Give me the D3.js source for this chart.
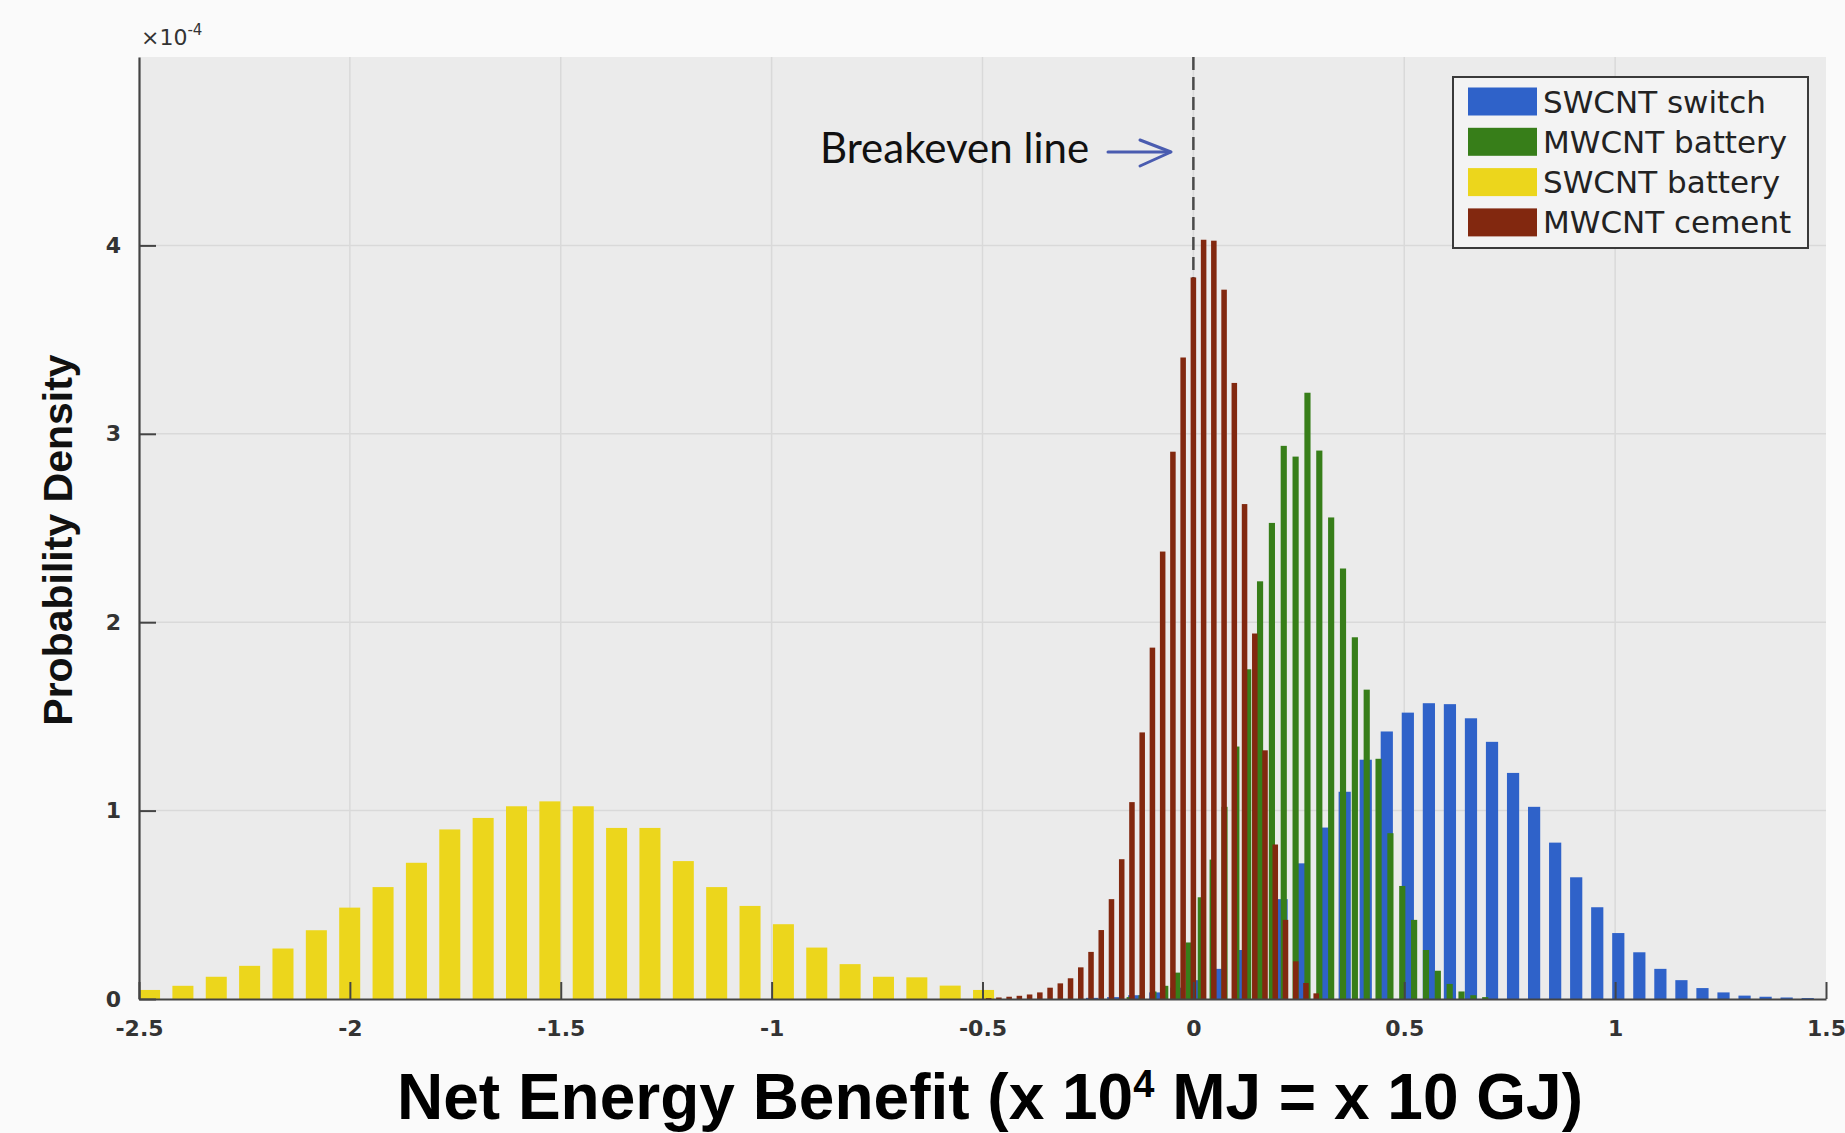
<!DOCTYPE html>
<html>
<head>
<meta charset="utf-8">
<script src="https://cdn.jsdelivr.net/npm/d3@7"></script>
<style>
  html, body { margin: 0; padding: 0; background: #fafafa; }
  svg { display: block; }
</style>
</head>
<body>
<svg id="chart" width="1845" height="1133"></svg>
<script>
// Probability density (x 10^-4) of the net energy benefit, one histogram per application.
// Each histogram is given by the centre of its first bin, its bin width and the bin heights.

const seriesNames = ["SWCNT switch", "MWCNT battery", "SWCNT battery", "MWCNT cement"];

const swcntSwitchFirstBin = -0.24;
const swcntSwitchBinWidth = 0.0499;
const swcntSwitch = [
  0.006, 0.01, 0.02, 0.035, 0.06, 0.10, 0.16, 0.26, 0.38, 0.53,
  0.72, 0.91, 1.10, 1.27, 1.42, 1.52, 1.57, 1.565, 1.49, 1.365,
  1.20, 1.02, 0.83, 0.646, 0.487, 0.35, 0.248, 0.16, 0.10, 0.058,
  0.035, 0.018, 0.012, 0.008, 0.005
];

const mwcntBatteryFirstBin = -0.151;
const mwcntBatteryBinWidth = 0.0281;
const mwcntBattery = [
  0.01, 0.02, 0.04, 0.07, 0.14, 0.30, 0.54, 0.74, 1.02, 1.34,
  1.75, 2.217, 2.527, 2.936, 2.879, 3.218, 2.911, 2.556, 2.285, 1.92,
  1.642, 1.275, 0.88, 0.60, 0.42, 0.26, 0.15, 0.08, 0.04, 0.02, 0.01
];

const swcntBatteryFirstBin = -2.475;
const swcntBatteryBinWidth = 0.0791;
const swcntBattery = [
  0.048, 0.07, 0.118, 0.176, 0.268, 0.365, 0.485, 0.594, 0.723, 0.90,
  0.961, 1.023, 1.049, 1.023, 0.908, 0.908, 0.732, 0.594, 0.494, 0.397,
  0.273, 0.185, 0.118, 0.115, 0.071, 0.048
];

const mwcntCementFirstBin = -0.4854;
const mwcntCementBinWidth = 0.02427;
const mwcntCement = [
  0.005, 0.008, 0.012, 0.017, 0.024, 0.035, 0.06, 0.083, 0.11, 0.168,
  0.25, 0.366, 0.53, 0.742, 1.045, 1.415, 1.865, 2.375, 2.905, 3.405,
  3.83, 4.03, 4.025, 3.765, 3.27, 2.627, 1.94, 1.32, 0.82, 0.42,
  0.20, 0.085, 0.03
];

const xTicks = [-2.5, -2, -1.5, -1, -0.5, 0, 0.5, 1, 1.5];
const xTickLabels = ["-2.5", "-2", "-1.5", "-1", "-0.5", "0", "0.5", "1", "1.5"];
const yTicks = [0, 1, 2, 3, 4];
const yTickLabels = ["0", "1", "2", "3", "4"];
const breakevenValue = 0;

// ---- layout & style ----
const plot = { left: 139, right: 1826, top: 57, bottom: 999 };
const colors = ["#2f62c9", "#377e19", "#ecd61c", "#82280f"];
const barFraction = [0.58, 0.52, 0.63, 0.54];

const svg = d3.select("#chart");

const x = d3.scaleLinear().domain([-2.5, 1.5]).range([plot.left, plot.right]);
const y = d3.scaleLinear().domain([0, 5]).range([plot.bottom, plot.top]);

// page background
svg.append("rect").attr("width", 1845).attr("height", 1133).attr("fill", "#fafafa");

// axes background
svg.append("rect")
  .attr("x", plot.left).attr("y", plot.top)
  .attr("width", plot.right - plot.left).attr("height", plot.bottom - plot.top)
  .attr("fill", "#ebebeb");

// grid
const grid = svg.append("g").attr("stroke", "#d9d9d9").attr("stroke-width", 1.5);
grid.selectAll("line.vx").data(xTicks.slice(1, -1)).join("line")
  .attr("x1", d => x(d)).attr("x2", d => x(d))
  .attr("y1", plot.top).attr("y2", plot.bottom);
grid.selectAll("line.hy").data(yTicks.slice(1)).join("line")
  .attr("y1", d => y(d)).attr("y2", d => y(d))
  .attr("x1", plot.left).attr("x2", plot.right);

// breakeven line (dashed, at zero net benefit)
svg.append("line")
  .attr("x1", x(breakevenValue)).attr("x2", x(breakevenValue))
  .attr("y1", plot.top).attr("y2", plot.bottom)
  .attr("stroke", "#4a4a4a").attr("stroke-width", 2.5)
  .attr("stroke-dasharray", "13,7");

// histograms, drawn in legend order
const series = [
  { first: swcntSwitchFirstBin, width: swcntSwitchBinWidth, values: swcntSwitch },
  { first: mwcntBatteryFirstBin, width: mwcntBatteryBinWidth, values: mwcntBattery },
  { first: swcntBatteryFirstBin, width: swcntBatteryBinWidth, values: swcntBattery },
  { first: mwcntCementFirstBin, width: mwcntCementBinWidth, values: mwcntCement }
];

series.forEach((s, si) => {
  const bins = s.values.map((v, i) => ({ c: s.first + i * s.width, v }));
  const half = s.width * barFraction[si] / 2;
  svg.append("g").attr("fill", colors[si])
    .selectAll("rect").data(bins).join("rect")
    .attr("x", d => x(d.c - half))
    .attr("width", d => x(d.c + half) - x(d.c - half))
    .attr("y", d => y(d.v))
    .attr("height", d => y(0) - y(d.v));
});

// axes with inward ticks
const tickFont = "'DejaVu Sans', sans-serif";
const xAxis = d3.axisBottom(x).tickValues(xTicks)
  .tickFormat((d, i) => xTickLabels[i]).tickSizeInner(-17).tickSizeOuter(0).tickPadding(17);
const gx = svg.append("g").attr("transform", `translate(0,${plot.bottom})`).call(xAxis);

const yAxis = d3.axisLeft(y).tickValues(yTicks)
  .tickFormat((d, i) => yTickLabels[i]).tickSizeInner(-17).tickSizeOuter(0).tickPadding(18);
const gy = svg.append("g").attr("transform", `translate(${plot.left},0)`).call(yAxis);

[gx, gy].forEach(g => {
  g.select(".domain").attr("stroke", "#444").attr("stroke-width", 2.2);
  g.selectAll(".tick line").attr("stroke", "#444").attr("stroke-width", 2);
  g.selectAll(".tick text")
    .attr("font-family", tickFont).attr("font-size", 22)
    .attr("font-weight", "bold")
    .attr("fill", "#333");
});
gx.selectAll(".tick text").attr("dy", "0.9em");

// exponent label
const expo = svg.append("text").attr("x", 141).attr("y", 45)
  .attr("font-family", tickFont).attr("fill", "#333");
expo.append("tspan").attr("font-size", 22).text("×10");
expo.append("tspan").attr("font-size", 15).attr("dy", -10).text("-4");

// axis titles
svg.append("text")
  .attr("transform", "translate(72,540) rotate(-90)")
  .attr("text-anchor", "middle")
  .attr("font-family", "'Liberation Sans', Arial, sans-serif")
  .attr("font-weight", "bold").attr("font-size", 41)
  .attr("fill", "#111")
  .text("Probability Density");

const xt = svg.append("text")
  .attr("x", 990).attr("y", 1119)
  .attr("text-anchor", "middle")
  .attr("font-family", "'Liberation Sans', Arial, sans-serif")
  .attr("font-weight", "bold").attr("font-size", 64)
  .attr("fill", "#000");
xt.append("tspan").text("Net Energy Benefit (x 10");
xt.append("tspan").attr("font-size", 38).attr("dy", -22).text("4");
xt.append("tspan").attr("dy", 22).text(" MJ = x 10 GJ)");

// breakeven annotation
svg.append("text")
  .attr("x", 820).attr("y", 163)
  .attr("font-family", "Lato, 'Open Sans', sans-serif")
  .attr("font-size", 42).attr("fill", "#111")
  .text("Breakeven line");
const arrow = svg.append("g").attr("stroke", "#4a5cb0").attr("stroke-width", 3)
  .attr("fill", "none").attr("stroke-linecap", "round").attr("stroke-linejoin", "round");
arrow.append("line").attr("x1", 1108).attr("x2", 1170).attr("y1", 152).attr("y2", 152);
arrow.append("path").attr("d", "M1140,140 L1171,152 L1140,166");

// legend
const legend = svg.append("g");
legend.append("rect")
  .attr("x", 1453).attr("y", 77).attr("width", 355).attr("height", 171)
  .attr("fill", "#f3f3f3").attr("stroke", "#3a3a3a").attr("stroke-width", 2);
seriesNames.forEach((name, i) => {
  const cy = 101.5 + i * 40.3;
  legend.append("rect")
    .attr("x", 1468).attr("y", cy - 14).attr("width", 69).attr("height", 28)
    .attr("fill", colors[i]);
  legend.append("text")
    .attr("x", 1543).attr("y", cy + 11)
    .attr("font-family", tickFont).attr("font-size", 31)
    .attr("fill", "#222")
    .text(name);
});
</script>
</body>
</html>
